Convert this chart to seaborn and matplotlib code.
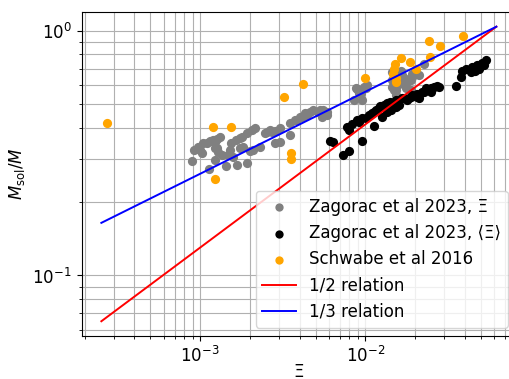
import matplotlib
matplotlib.use("Agg")
import matplotlib.pyplot as plt
import seaborn as sns
import pandas as pd
import numpy as np

# Zagorac et al 2023, Xi (gray)
gray_x = [8.95e-4, 9.20e-4, 9.72e-4, 1.00e-3, 1.028e-3, 1.042e-3, 1.102e-3, 1.149e-3, 1.197e-3, 1.231e-3,
          1.266e-3, 1.319e-3, 1.231e-3, 1.266e-3, 1.283e-3, 1.358e-3, 1.231e-3, 1.133e-3, 1.435e-3, 1.475e-3,
          1.517e-3, 1.538e-3, 1.581e-3, 1.671e-3, 1.648e-3, 1.741e-3, 1.790e-3, 1.741e-3, 1.815e-3, 1.919e-3,
          1.919e-3, 2.00e-3, 2.056e-3, 2.085e-3, 2.144e-3, 2.298e-3, 2.463e-3, 2.534e-3, 2.641e-3, 2.716e-3,
          2.831e-3, 2.831e-3, 3.034e-3, 3.034e-3, 3.486e-3, 3.486e-3, 3.735e-3, 3.840e-3, 4.00e-3, 4.115e-3,
          4.29e-3, 4.41e-3, 4.60e-3, 4.80e-3, 5.14e-3, 5.28e-3, 5.51e-3, 5.82e-3, 5.82e-3, 5.43e-3,
          8.59e-3, 8.83e-3, 8.95e-3, 9.20e-3, 9.46e-3, 9.59e-3, 9.86e-3, 1.014e-2, 1.028e-2,
          1.45e-2, 1.45e-2, 1.45e-2, 1.50e-2, 1.54e-2, 1.54e-2, 1.60e-2, 1.65e-2, 1.67e-2, 1.72e-2,
          1.77e-2, 1.77e-2, 1.79e-2, 1.89e-2, 1.89e-2, 1.92e-2, 1.92e-2, 2.03e-2, 2.11e-2, 2.27e-2]
gray_y = [0.293, 0.325, 0.334, 0.325, 0.316, 0.347, 0.347, 0.353, 0.357, 0.350,
          0.360, 0.367, 0.331, 0.331, 0.319, 0.310, 0.296, 0.272, 0.280, 0.310,
          0.325, 0.347, 0.304, 0.282, 0.357, 0.363, 0.367, 0.331, 0.334, 0.288,
          0.381, 0.322, 0.392, 0.325, 0.399, 0.334, 0.381, 0.384, 0.392, 0.384,
          0.388, 0.347, 0.399, 0.350, 0.374, 0.418, 0.430, 0.430, 0.443, 0.443,
          0.459, 0.451, 0.464, 0.472, 0.464, 0.472, 0.472, 0.464, 0.451, 0.443,
          0.519, 0.581, 0.575, 0.554, 0.554, 0.519, 0.586, 0.581, 0.597,
          0.675, 0.626, 0.586, 0.570, 0.544, 0.570, 0.608, 0.687, 0.656, 0.638,
          0.626, 0.581, 0.614, 0.570, 0.626, 0.668, 0.644, 0.687, 0.656, 0.734]

# Zagorac et al 2023, <Xi> (black)
black_x = [6.07e-3, 6.33e-3, 7.27e-3, 8.01e-3, 9.59e-3, 1.13e-2, 7.79e-3, 8.01e-3, 8.35e-3, 8.95e-3,
           9.20e-3, 9.59e-3, 1.014e-2, 1.057e-2, 1.10e-2, 1.13e-2, 1.16e-2, 1.21e-2, 1.23e-2, 1.26e-2,
           1.30e-2, 1.36e-2, 1.36e-2, 1.40e-2, 1.43e-2, 1.50e-2, 1.54e-2, 1.54e-2, 1.60e-2, 1.60e-2,
           1.67e-2, 1.72e-2, 1.79e-2, 1.84e-2, 1.89e-2, 1.92e-2, 2.06e-2, 2.06e-2, 2.11e-2, 2.20e-2,
           2.27e-2, 2.33e-2, 2.43e-2, 2.50e-2, 2.50e-2, 2.61e-2, 2.72e-2, 2.79e-2, 3.53e-2, 3.78e-2,
           3.84e-2, 4.06e-2, 4.35e-2, 4.41e-2, 4.73e-2, 4.86e-2, 5.07e-2, 5.21e-2, 5.36e-2, 4.60e-2]
black_y = [0.353, 0.350, 0.310, 0.322, 0.353, 0.407, 0.403, 0.392, 0.414, 0.430,
           0.422, 0.438, 0.438, 0.451, 0.459, 0.464, 0.472, 0.481, 0.491, 0.443,
           0.495, 0.505, 0.464, 0.509, 0.472, 0.509, 0.486, 0.519, 0.519, 0.495,
           0.529, 0.529, 0.519, 0.529, 0.534, 0.544, 0.534, 0.549, 0.529, 0.560,
           0.560, 0.581, 0.570, 0.581, 0.560, 0.586, 0.592, 0.586, 0.592, 0.644,
           0.687, 0.700, 0.675, 0.707, 0.721, 0.700, 0.741, 0.721, 0.762, 0.687]

# Schwabe et al 2016 (orange)
orange_x = [2.72e-4, 1.197e-3, 1.538e-3, 1.231e-3, 3.206e-3, 4.17e-3, 3.533e-3, 3.533e-3, 1.0e-2, 1.52e-2,
            1.50e-2, 1.47e-2, 1.54e-2, 1.54e-2, 1.65e-2, 1.87e-2, 2.03e-2, 2.43e-2, 2.83e-2, 2.46e-2, 3.89e-2]
orange_y = [0.418, 0.403, 0.403, 0.248, 0.534, 0.608, 0.316, 0.299, 0.638, 0.734,
            0.700, 0.668, 0.638, 0.614, 0.776, 0.748, 0.694, 0.911, 0.869, 0.784, 0.954]

# Relation lines (endpoints)
rel_x = [2.52e-4, 6.21e-2]
half_y = [0.065, 1.038]
third_y = [0.164, 1.038]

plt.rcParams['font.size'] = 12
fig = plt.figure(figsize=(5.1, 3.79), dpi=100)
ax = fig.add_axes([0.160, 0.1135, 0.852, 0.855])

sns.scatterplot(x=gray_x, y=gray_y, color='gray', s=44, linewidth=0, ax=ax,
                label='Zagorac et al 2023, Ξ', zorder=3)
sns.scatterplot(x=black_x, y=black_y, color='black', s=44, linewidth=0, ax=ax,
                label='Zagorac et al 2023, ⟨Ξ⟩', zorder=3)
sns.scatterplot(x=orange_x, y=orange_y, color='orange', s=44, linewidth=0, ax=ax,
                label='Schwabe et al 2016', zorder=3)
sns.lineplot(x=rel_x, y=half_y, color='red', ax=ax, label='1/2 relation',
             estimator=None, sort=False, linewidth=1.4, zorder=4)
sns.lineplot(x=rel_x, y=third_y, color='blue', ax=ax, label='1/3 relation',
             estimator=None, sort=False, linewidth=1.4, zorder=4)

ax.set_xscale('log')
ax.set_yscale('log')
ax.grid(True, which='both', color='#b0b0b0', linewidth=0.8)
ax.set_axisbelow(True)
ax.set_xlabel('Ξ', fontsize=12, labelpad=-2)
ax.set_ylabel(r'$M_{\rm sol}/M$', fontsize=12)
ax.tick_params(labelsize=12)
ax.legend(loc='lower right', fontsize=12, markerscale=0.9)

fig.savefig('out.png', dpi=100)
